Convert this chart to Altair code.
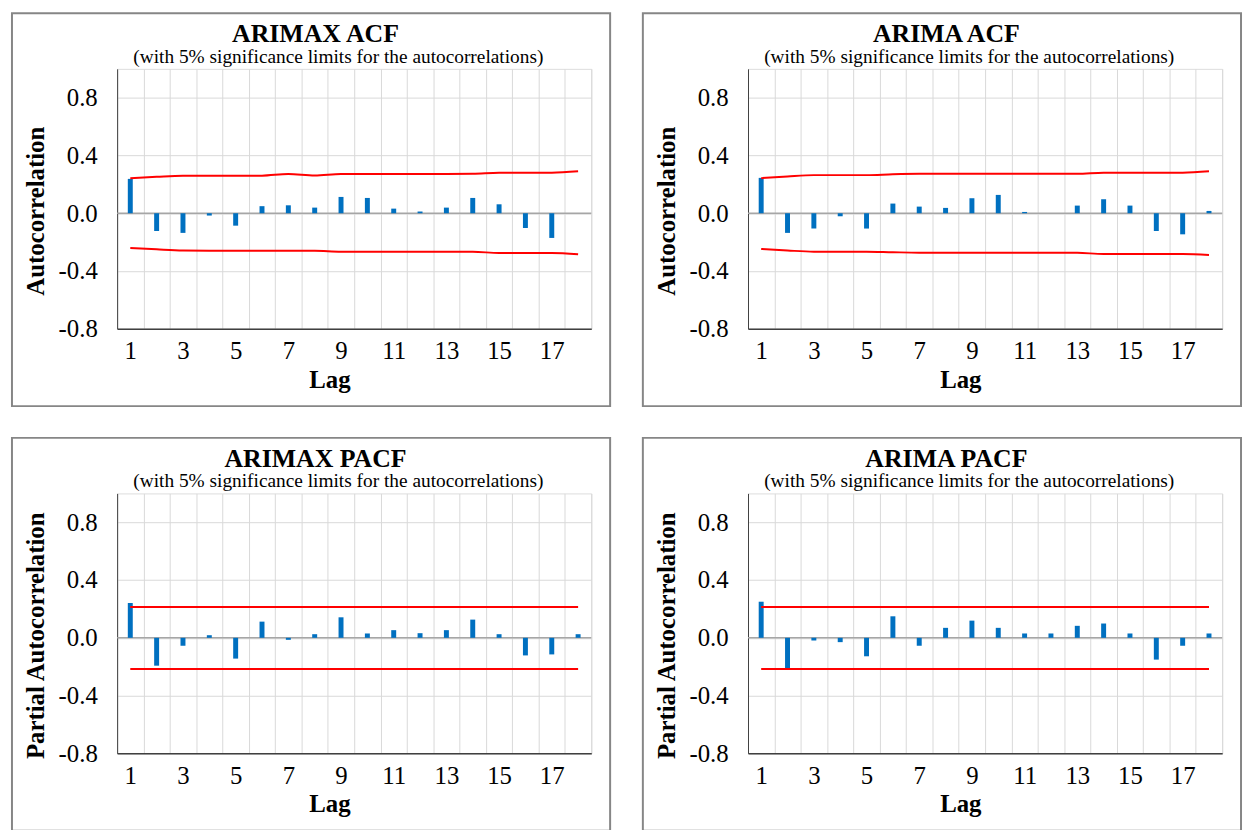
import altair as alt
import pandas as pd

LAGS = list(range(1, 19))

ARIMAX_ACF = [0.238, -0.123, -0.136, -0.016, -0.086, 0.049, 0.055, 0.039, 0.113,
              0.106, 0.032, 0.012, 0.039, 0.106, 0.062, -0.102, -0.171, 0.0]
ARIMAX_ACF_UPPER = [0.243, 0.252, 0.259, 0.259, 0.259, 0.260, 0.272, 0.262, 0.272,
                    0.272, 0.272, 0.272, 0.272, 0.273, 0.280, 0.280, 0.281, 0.291]
ARIMAX_ACF_LOWER = [-0.240, -0.250, -0.258, -0.259, -0.259, -0.259, -0.260, -0.260, -0.266,
                    -0.266, -0.266, -0.266, -0.267, -0.267, -0.275, -0.275, -0.276, -0.284]

ARIMA_ACF = [0.245, -0.136, -0.106, -0.021, -0.106, 0.067, 0.046, 0.037, 0.104,
             0.127, 0.009, 0.0, 0.053, 0.097, 0.053, -0.123, -0.146, 0.016]
ARIMA_ACF_UPPER = [0.243, 0.255, 0.264, 0.264, 0.264, 0.270, 0.273, 0.273, 0.273,
                   0.273, 0.273, 0.273, 0.273, 0.280, 0.280, 0.280, 0.281, 0.291]
ARIMA_ACF_LOWER = [-0.247, -0.258, -0.266, -0.266, -0.266, -0.270, -0.273, -0.273, -0.273,
                   -0.273, -0.273, -0.273, -0.274, -0.282, -0.282, -0.282, -0.283, -0.289]

ARIMAX_PACF = [0.241, -0.193, -0.055, 0.018, -0.144, 0.112, -0.014, 0.025, 0.142,
               0.030, 0.053, 0.032, 0.053, 0.126, 0.025, -0.122, -0.115, 0.025]
ARIMA_PACF = [0.250, -0.211, -0.018, -0.030, -0.128, 0.149, -0.055, 0.069, 0.119,
              0.069, 0.030, 0.030, 0.083, 0.099, 0.030, -0.151, -0.055, 0.030]
PACF_UPPER = [0.213, 0.213, 0.213, 0.213, 0.213, 0.213, 0.213, 0.213, 0.213,
              0.213, 0.213, 0.213, 0.213, 0.213, 0.213, 0.213, 0.213, 0.213]
PACF_LOWER = [-0.216, -0.216, -0.216, -0.216, -0.216, -0.216, -0.216, -0.216, -0.216,
              -0.216, -0.216, -0.216, -0.216, -0.216, -0.216, -0.216, -0.216, -0.216]

Y_TICKS = [-0.8, -0.4, 0.0, 0.4, 0.8]
SUBTITLE = "(with 5% significance limits  for the autocorrelations)"

W, H = 478, 262
FONT = "Liberation Serif, Times New Roman, DejaVu Serif, serif"


def panel(title, ytitle, values, upper, lower):
    df = pd.DataFrame({"Lag": LAGS, "value": values, "upper": upper, "lower": lower})
    one = pd.DataFrame({"k": [0]})

    xaxis = alt.Axis(
        title="Lag", tickBand="extent", grid=True, gridColor="#D9D9D9", ticks=False,
        labelAngle=0, labelExpr="datum.value % 2 == 1 ? datum.label : ''",
        labelFont=FONT, labelFontSize=25, labelColor="black", labelPadding=10,
        domainColor="#404040", domainWidth=1.5,
        titleFont=FONT, titleFontSize=25, titleFontWeight="bold", titleColor="black",
        titlePadding=4, titleX=214,
    )
    yaxis = alt.Axis(
        values=Y_TICKS,
        labelExpr="datum.value < 0 ? '-' + format(-datum.value, '.1f') : format(datum.value, '.1f')",
        grid=True, gridColor="#D9D9D9", ticks=False,
        domainColor="#404040", domainWidth=1,
        labelFont=FONT, labelFontSize=25, labelColor="black", labelPadding=20,
        titleFont=FONT, titleFontSize=25, titleFontWeight="bold", titleColor="black",
        titlePadding=10, titleY=143,
    )
    xs = alt.Scale(type="band", paddingInner=0, paddingOuter=0)
    ys = alt.Scale(domain=[-0.8, 1.0], nice=False, zero=False)

    def xe():
        return alt.X("Lag:O", scale=xs, axis=xaxis, title="Lag")

    def ye(field):
        return alt.Y(f"{field}:Q", scale=ys, axis=yaxis, title=ytitle)

    base = alt.Chart(df)
    zero = alt.Chart(one).mark_rule(color="#A6A6A6", strokeWidth=1.5).encode(y=alt.datum(0))
    bars = base.mark_bar(size=5, color="#0070C0").encode(x=xe(), y=ye("value"))
    up = base.mark_line(color="#FF0000", strokeWidth=2, interpolate="monotone").encode(
        x=xe(), y=ye("upper"))
    lo = base.mark_line(color="#FF0000", strokeWidth=2, interpolate="monotone").encode(
        x=xe(), y=ye("lower"))
    frame = alt.Chart(one).mark_rect(fill="white", fillOpacity=0, stroke="#868686",
                                     strokeWidth=2).encode(
        x=alt.value(-106), x2=alt.value(W + 19), y=alt.value(-56), y2=alt.value(H + 78))
    main = alt.Chart(one).mark_text(font=FONT, fontSize=26, fontWeight="bold",
                                    align="center", baseline="alphabetic",
                                    color="black").encode(
        x=alt.value(200), y=alt.value(-27), text=alt.value(title))
    sub = alt.Chart(one).mark_text(font=FONT, fontSize=19.5, align="center",
                                   baseline="alphabetic", color="black").encode(
        x=alt.value(223), y=alt.value(-6), text=alt.value(SUBTITLE))

    return alt.layer(frame, zero, bars, up, lo, main, sub).properties(width=W, height=H)


p1 = panel("ARIMAX ACF", "Autocorrelation", ARIMAX_ACF, ARIMAX_ACF_UPPER, ARIMAX_ACF_LOWER)
p2 = panel("ARIMA ACF", "Autocorrelation", ARIMA_ACF, ARIMA_ACF_UPPER, ARIMA_ACF_LOWER)
p3 = panel("ARIMAX PACF", "Partial Autocorrelation", ARIMAX_PACF, PACF_UPPER, PACF_LOWER)
p4 = panel("ARIMA PACF", "Partial Autocorrelation", ARIMA_PACF, PACF_UPPER, PACF_LOWER)

row1 = alt.hconcat(p1, p2, spacing=29)
row2 = alt.hconcat(p3, p4, spacing=29)

chart = (
    alt.vconcat(row1, row2, spacing=28)
    .properties(padding={"left": 2, "top": 0, "right": 0, "bottom": 0})
    .configure_view(stroke=None)
    .configure_axis(labelFont=FONT, titleFont=FONT)
    .configure_text(font=FONT)
    .configure(background="white", font=FONT)
)

chart.save("out.html", embed_options={"renderer": "svg", "actions": False})
